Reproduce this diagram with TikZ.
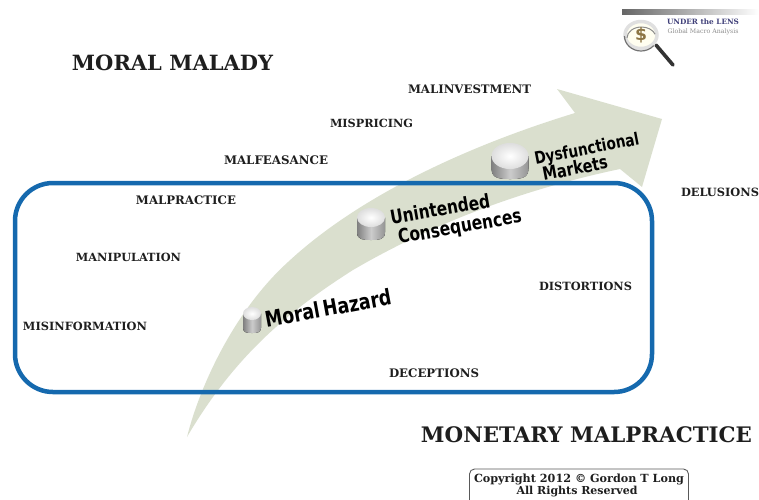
\documentclass[tikz,border=0pt]{standalone}
\usepackage{fontspec}
\setmainfont{DejaVu Serif}
\setsansfont{DejaVu Sans}
\definecolor{arrowgreen}{HTML}{DADFCE}
\definecolor{boxblue}{HTML}{1569AE}
\definecolor{inkc}{HTML}{1E1E1E}
\newcommand{\fitw}[2]{\resizebox{#1pt}{!}{#2}}
\newcommand{\fitb}[2]{\scalebox{1}[1.25]{\resizebox{#1pt}{!}{#2}}}
\usetikzlibrary{calc}
\newcommand{\cylnd}[6]{% name, cx, cy, w, h, cap half-height
  \coordinate (#1) at (#2,#3);
  \fill[left color=black!50,right color=black!42,middle color=black!20]
    ($(#1)+(-#4/2,-#5/2+#6)$) -- ($(#1)+(-#4/2,#5/2-#6*0.8)$)
    .. controls ($(#1)+(-#4/2,#5/2)$) and ($(#1)+(-#4/4,#5/2)$) .. ($(#1)+(0,#5/2)$)
    .. controls ($(#1)+(#4/4,#5/2)$) and ($(#1)+(#4/2,#5/2)$) .. ($(#1)+(#4/2,#5/2-#6*0.8)$)
    -- ($(#1)+(#4/2,-#5/2+#6)$) -- cycle;
  \shade[inner color=white,outer color=black!13]
    ($(#1)+(0,-#5/2+#6)$) ellipse ({#4/2} and {#6});
}
\tikzset{
  term/.style={font=\bfseries,text=inkc,inner sep=0pt,anchor=center},
  bubble/.style={font=\sffamily\bfseries,text=black,inner sep=0pt,align=center,anchor=center,rotate=#1},
  bubble/.default=11
}
\begin{document}
\begin{tikzpicture}[x=1pt,y=-1pt]
\useasboundingbox (0,0) rectangle (759,499);
% arrow
\fill[arrowgreen] (187,437)
  .. controls (200,385) and (235,310) .. (288,262)
  .. controls (360,195) and (470,145) .. (575,113)
  -- (557,89) -- (662,119) -- (642,187) -- (620,169)
  .. controls (520,190) and (430,225) .. (353,270)
  .. controls (290,310) and (235,355) .. (187,437) -- cycle;
% cylinders
\cylnd{cylA}{252}{320}{18}{26}{6.5}
\cylnd{cylB}{371}{224}{28}{32}{9.5}
\cylnd{cylC}{510}{161}{37}{36}{13}
% frame
\node[draw=boxblue,line width=4.5pt,rounded corners=38pt,minimum width=637pt,minimum height=209pt,inner sep=0pt] (frame) at (333.5,287.5) {};
% bubble labels
\node[bubble=10.5] (hazard) at (328,308) {\fitb{128}{Moral\kern-0.15em\ Hazard}};
\node[bubble=10] (uc1) at (440,209) {\fitb{101}{Unintended}};
\node[bubble=10] (uc2) at (460,228) {\fitb{125}{Consequences}};
\node[bubble=11] (dm1) at (587,150) {\fitb{106}{Dysfunctional}};
\node[bubble=11] (dm2) at (575,168) {\fitb{66}{Markets}};
% terms
\node[term] (title) at (172.5,62.5) {\fitw{201}{MORAL MALADY}};
\node[term] (t1) at (469.5,89) {\fitw{123}{MALINVESTMENT}};
\node[term] (t2) at (371.5,123) {\fitw{83}{MISPRICING}};
\node[term] (t3) at (276,160.5) {\fitw{104}{MALFEASANCE}};
\node[term] (t4) at (186,200.5) {\fitw{100}{MALPRACTICE}};
\node[term] (t5) at (128.5,257) {\fitw{105}{MANIPULATION}};
\node[term] (t6) at (85,326) {\fitw{124}{MISINFORMATION}};
\node[term] (t7) at (434,373.5) {\fitw{90}{DECEPTIONS}};
\node[term] (t8) at (585.5,286) {\fitw{93}{DISTORTIONS}};
\node[term] (t9) at (720,192) {\fitw{78}{DELUSIONS}};
\node[term] (mm) at (586.5,435) {\fitw{331}{MONETARY MALPRACTICE}};
% copyright
\node[draw=black!65,line width=0.9pt,rounded corners=5pt,minimum width=219pt,minimum height=36pt,inner sep=0pt] (cbox) at (579,487) {};
\node[term] (c1) at (579,479.5) {\fitw{210}{Copyright 2012 © Gordon T Long}};
\node[term] (c2) at (577,491.5) {\fitw{121}{All Rights Reserved}};
% logo
\shade[left color=black!60,right color=white] (622,9) rectangle (759,14);
\draw[line width=3.6pt,line cap=round,black!80] (656,45) -- (673,65);
\draw[line width=3.5pt,black!12,fill=white!94!yellow] (641,35) ellipse (16 and 13.5);
\draw[line width=1.2pt,black!55] (624.5,36) arc (180:320:16.5 and -15);
\draw[line width=1pt,black!45] (627,38) arc (180:340:14.5 and 11);
\node[font=\bfseries\sffamily,text=black!60!yellow!85!red,inner sep=0pt] (dollar) at (641,35) {\fitw{12}{\$}};
\node[inner sep=0pt,text=blue!30!black!75,font=\bfseries] (lg1) at (703,22) {\fitw{72}{UNDER the LENS}};
\node[inner sep=0pt,text=black!45] (lg2) at (703,32) {\fitw{71}{Global Macro Analysis}};
\end{tikzpicture}
\end{document}
